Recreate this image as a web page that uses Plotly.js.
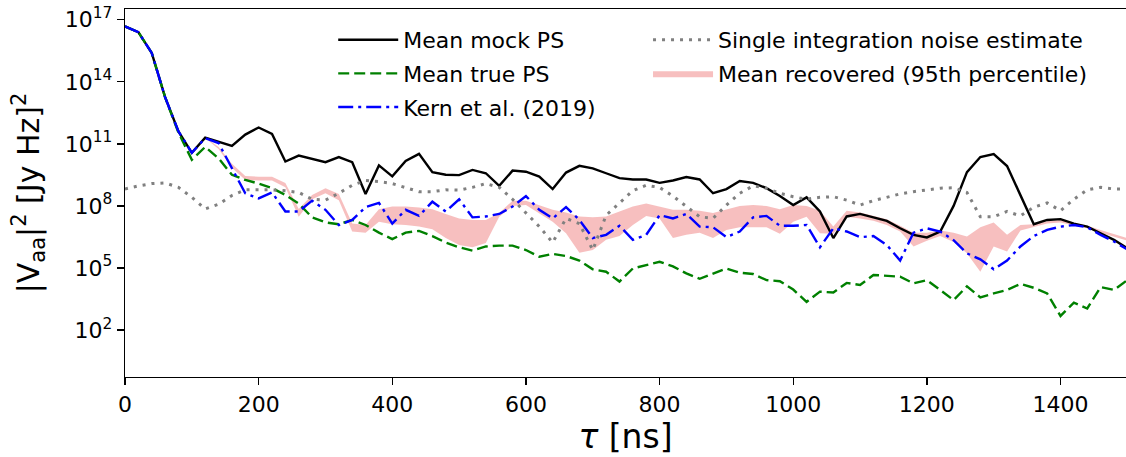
<!DOCTYPE html>
<html>
<head>
<meta charset="utf-8">
<script src="https://cdn.plot.ly/plotly-3.0.1.min.js"></script>
<style>html,body{margin:0;padding:0;background:#fff;}#chart{width:1126px;height:457px;}</style>
</head>
<body>
<div id="chart"></div>
<script>
const tau = [0,20,40,60,80,100,120,140,160,180,200,220,240,260,280,300,320,340,360,380,
  400,420,440,460,480,500,520,540,560,580,600,620,640,660,680,700,720,740,760,780,
  800,820,840,860,880,900,920,940,960,980,1000,1020,1040,1060,1080,1100,1120,1140,1160,1180,
  1200,1220,1240,1260,1280,1300,1320,1340,1360,1380,1400,1420,1440,1460,1480,1500];

const meanMockPS = [4.8e16,2.5e16,2.5e15,1.8e13,4.0e11,3.7e10,2.0e11,1.3e11,7.9e10,2.8e11,
  6.2e11,3.0e11,1.4e10,2.7e10,1.9e10,1.3e10,2.3e10,1.3e10,3.8e8,9.1e9,
  2.7e9,1.5e10,3.3e10,4.3e9,3.2e9,3.1e9,5.5e9,3.8e9,9.3e8,5.1e9,
  4.5e9,2.6e9,6.5e8,4.1e9,8.7e9,6.6e9,3.8e9,2.2e9,1.9e9,1.9e9,
  1.3e9,1.7e9,2.5e9,1.9e9,4.1e8,6.5e8,1.6e9,1.3e9,7.2e8,3.0e8,
  1.1e8,2.6e8,5.4e7,2.8e6,3.1e7,4.1e7,2.8e7,1.9e7,8.3e6,4.0e6,
  3.0e6,5.8e6,1.0e8,4.3e9,2.3e10,3.2e10,8.5e9,3.2e8,1.3e7,2.1e7,
  2.3e7,1.4e7,1.0e7,4.8e6,2.3e6,8.9e5];

const meanTruePS = [4.8e16,2.5e16,2.5e15,1.8e13,3.5e11,1.7e10,7.1e10,2.0e10,3.2e9,1.8e9,
  1.2e9,7.2e8,3.4e8,1.3e8,2.8e7,1.6e7,1.3e7,2.1e7,1.2e7,5.1e6,
  2.5e6,5.1e6,6.2e6,3.5e6,1.7e6,1.0e6,6.9e5,1.1e6,1.2e6,1.2e6,
  7.4e5,3.5e5,4.8e5,3.8e5,2.3e5,8.7e4,6.6e4,2.2e4,9.5e4,1.4e5,
  2.0e5,1.2e5,5.5e4,3.0e4,5.5e4,9.5e4,5.9e4,5.1e4,2.6e4,2.3e4,
  9.1e3,2.3e3,7.2e3,6.5e3,1.9e4,1.5e4,4.6e4,4.3e4,3.8e4,1.8e4,
  2.6e4,8.7e3,2.8e3,1.3e4,3.8e3,5.9e3,8.7e3,1.7e4,1.1e4,5.9e3,
  4.8e2,2.1e3,1.1e3,1.2e4,8.7e3,2.6e4];

const kern2019 = [4.8e16,2.5e16,2.5e15,1.8e13,4.0e11,3.7e10,1.9e11,1.1e11,6.6e9,4.1e8,
  2.3e8,4.5e8,5.4e7,5.4e7,1.8e8,6.5e7,1.2e7,2.1e7,8.7e7,1.4e8,
  1.4e7,6.5e7,3.3e7,1.6e8,5.4e7,2.1e8,2.8e7,3.1e7,4.1e7,9.3e7,
  3.0e8,6.5e7,2.5e7,8.7e7,2.1e7,2.8e6,4.0e6,1.1e7,2.3e6,4.0e6,
  3.6e7,2.5e7,4.1e7,1.0e7,9.3e6,3.1e6,5.8e6,2.8e7,3.3e7,1.1e7,
  1.1e7,1.2e7,1.0e6,8.3e6,5.8e6,3.1e6,3.5e6,1.3e6,2.3e5,5.1e6,
  8.3e6,5.8e6,2.2e6,5.1e5,2.6e5,8.7e4,2.3e5,1.1e6,3.5e6,6.9e6,
  1.0e7,1.2e7,9.3e6,4.0e6,1.9e6,7.9e5];

const noiseEstimate = [6.6e8,9.3e8,1.2e9,1.3e9,7.9e8,2.6e8,7.2e7,1.2e8,3.2e8,6.0e8,
  6.0e8,6.0e8,5.4e8,4.5e8,2.1e8,1.9e8,4.1e8,1.0e9,1.7e9,1.5e9,
  1.2e9,7.9e8,4.9e8,4.9e8,6.0e8,5.8e8,7.9e8,1.2e9,7.9e8,2.1e8,
  4.5e7,1.0e7,1.7e6,2.5e7,1.4e7,7.4e5,3.5e7,1.4e8,5.5e8,1.0e9,
  7.8e8,3.0e8,9.3e7,3.0e7,2.5e7,1.1e8,4.1e8,9.3e8,7.2e8,4.1e8,
  2.8e8,2.1e8,2.6e8,2.8e8,1.9e8,1.1e8,1.8e8,2.6e8,3.8e8,4.9e8,
  6.0e8,7.2e8,7.6e8,4.5e8,3.0e7,3.0e7,5.4e7,3.3e7,8.7e7,1.4e8,
  5.9e7,2.1e8,6.0e8,7.9e8,6.6e8,6.6e8];

const recoveredLow = [4.6e16,2.4e16,2.3e15,1.7e13,3.8e11,3.5e10,1.9e11,5.6e10,7.1e9,1.8e9,
  1.7e9,1.7e9,7.9e8,3.0e7,2.1e8,4.1e8,1.9e8,5.8e6,5.1e6,1.7e7,
  1.3e7,1.2e7,1.0e7,7.4e6,2.8e6,1.3e6,1.0e6,1.6e6,3.0e7,1.0e8,
  1.1e8,4.5e7,1.7e7,4.8e6,5.5e5,7.4e5,2.3e6,3.5e6,1.2e7,3.3e7,
  2.5e7,2.8e6,4.0e6,5.1e6,2.8e6,6.9e6,9.3e6,9.3e6,9.3e6,4.5e6,
  1.7e7,3.0e7,4.8e6,4.5e6,3.0e7,2.5e7,1.9e7,1.2e7,5.8e6,1.1e6,
  2.1e6,3.5e6,1.8e6,5.1e5,6.6e4,1.1e6,6.2e5,6.5e6,9.3e6,1.4e7,
  1.6e7,1.2e7,8.3e6,5.1e6,3.4e6,2.1e6];

const recoveredHigh = [5.0e16,2.6e16,2.6e15,1.9e13,4.2e11,4.0e10,2.1e11,7.1e10,1.1e10,2.8e9,
  2.6e9,2.6e9,1.3e9,7.1e7,3.4e8,7.2e8,3.8e8,1.4e7,1.2e7,6.9e7,
  9.3e7,9.3e7,8.3e7,6.9e7,4.1e7,2.5e7,2.1e7,2.1e7,4.5e7,1.8e8,
  1.8e8,1.1e8,6.5e7,4.8e7,3.1e7,2.8e7,3.1e7,5.4e7,9.3e7,1.3e8,
  9.3e7,6.5e7,6.5e7,5.8e7,4.5e7,6.9e7,1.0e8,1.1e8,1.0e8,6.9e7,
  1.1e8,1.0e8,5.9e7,1.0e7,5.8e7,4.8e7,3.3e7,2.3e7,1.1e7,5.1e6,
  5.1e6,6.5e6,5.1e6,3.3e6,9.3e6,1.6e7,4.0e6,1.2e7,1.3e7,1.8e7,
  2.1e7,1.5e7,1.1e7,6.9e6,4.5e6,2.8e6];

const xTickVals = [0,200,400,600,800,1000,1200,1400];
const yTickVals = [1e2,1e5,1e8,1e11,1e14,1e17];
const yTickText = ['10<sup>2</sup>','10<sup>5</sup>','10<sup>8</sup>','10<sup>11</sup>','10<sup>14</sup>','10<sup>17</sup>'];
const seriesNames = ['Mean mock PS','Mean true PS','Kern et al. (2019)','Single integration noise estimate','Mean recovered (95th percentile)'];

const FONT = 'DejaVu Sans, Liberation Sans, sans-serif';
const LW = 2.4;

const traces = [
  {x: tau, y: recoveredLow, mode: 'lines', line: {width: 0, color: 'rgba(240,128,128,0.5)'},
   showlegend: false, hoverinfo: 'skip', legend: 'legend2', legendgroup: 'e'},
  {x: tau, y: recoveredHigh, mode: 'lines', fill: 'tonexty', fillcolor: 'rgba(240,128,128,0.5)',
   line: {width: 0, color: 'rgba(240,128,128,0.5)'}, name: seriesNames[4], legend: 'legend2', legendgroup: 'e', legendrank: 2},
  {x: tau, y: meanMockPS, mode: 'lines', name: seriesNames[0], line: {color: '#000000', width: LW},
   legend: 'legend', legendgroup: 'a', legendrank: 1},
  {x: tau, y: meanTruePS, mode: 'lines', name: seriesNames[1], line: {color: '#008000', width: LW, dash: '11px,5px'},
   legend: 'legend', legendgroup: 'b', legendrank: 2},
  {x: tau, y: kern2019, mode: 'lines', name: seriesNames[2], line: {color: '#0000ff', width: LW, dash: '15px,5px,3px,5px'},
   legend: 'legend', legendgroup: 'c', legendrank: 3},
  {x: tau, y: noiseEstimate, mode: 'lines', name: seriesNames[3], line: {color: '#808080', width: 3, dash: '3px,6px'},
   legend: 'legend2', legendgroup: 'd', legendrank: 1}
];

const legendCommon = {
  bgcolor: 'rgba(0,0,0,0)', borderwidth: 0, font: {family: FONT, size: 22, color: '#000'},
  itemwidth: 60, tracegroupgap: 2, xanchor: 'left', yanchor: 'top', traceorder: 'grouped'
};

const layout = {
  width: 1126, height: 457,
  margin: {l: 125, r: 0, t: 9, b: 80},
  paper_bgcolor: '#ffffff', plot_bgcolor: '#ffffff',
  font: {family: FONT, size: 22, color: '#000'},
  showlegend: true,
  legend: Object.assign({}, legendCommon, {x: 0.208, y: 0.973}),
  legend2: Object.assign({}, legendCommon, {x: 0.5225, y: 0.973}),
  xaxis: {
    range: [0, 1498], tickvals: xTickVals, ticks: 'outside', ticklen: 7, tickwidth: 1.3,
    tickcolor: '#000', showline: true, linecolor: '#000', linewidth: 1.3, mirror: true,
    showgrid: false, zeroline: false, tickfont: {family: FONT, size: 22},
    title: {text: '<i>τ</i> [ns]', font: {family: FONT, size: 33}, standoff: 6}
  },
  yaxis: {
    type: 'log', range: [-0.27, 17.52], tickvals: yTickVals, ticktext: yTickText,
    ticks: 'outside', ticklen: 7, tickwidth: 1.3, tickcolor: '#000',
    showline: true, linecolor: '#000', linewidth: 1.3, mirror: true,
    showgrid: false, zeroline: false, tickfont: {family: FONT, size: 22},
    title: {text: '|V<sub>aa</sub>|<sup>2</sup> [Jy Hz]<sup>2</sup>', font: {family: FONT, size: 30}, standoff: 16}
  }
};

Plotly.newPlot('chart', traces, layout, {displayModeBar: false, staticPlot: true});
</script>
</body>
</html>
